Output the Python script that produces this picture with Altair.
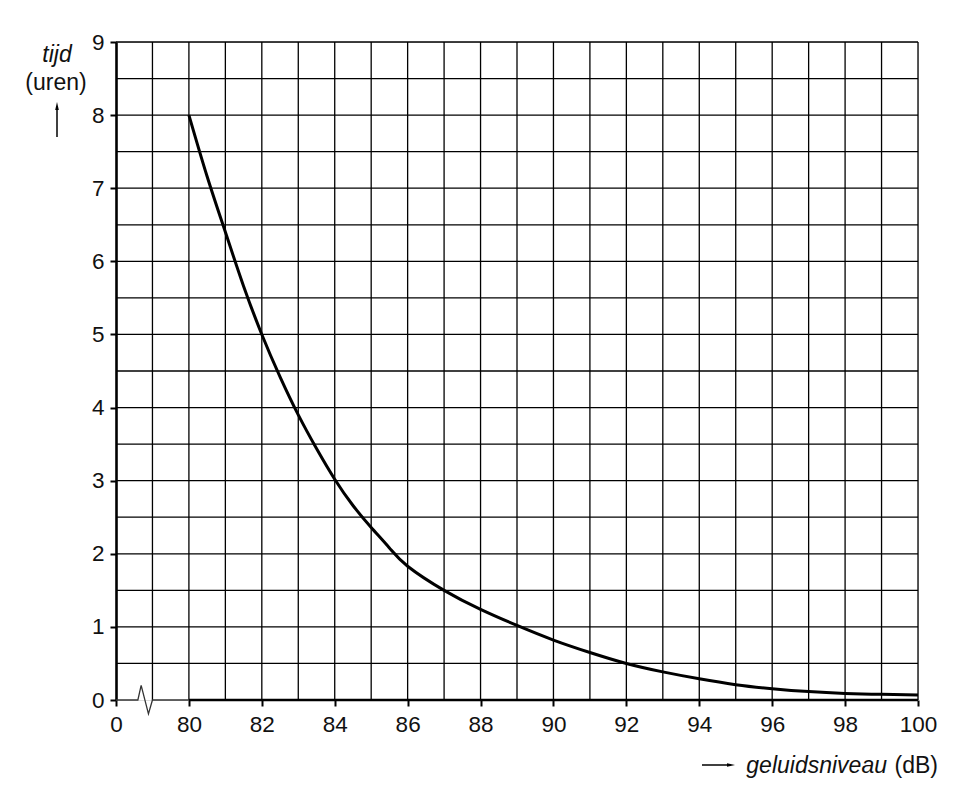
import altair as alt
import pandas as pd

# curve data
level_db = [80, 80.5, 81, 81.5, 82, 82.5, 83, 83.5, 84, 84.5, 85, 85.5, 86, 87, 88, 89, 90,
            91, 92, 93, 94, 95, 96, 97, 98, 99, 100]
hours = [8.0, 7.16, 6.4, 5.66, 5.0, 4.42, 3.9, 3.44, 3.02, 2.66, 2.36, 2.08, 1.83, 1.5,
         1.24, 1.02, 0.82, 0.65, 0.5, 0.385, 0.29, 0.21, 0.155, 0.115, 0.09, 0.077, 0.07]

# axis ticks (78 on the scale stands for the broken "0")
x_ticks = [78, 80, 82, 84, 86, 88, 90, 92, 94, 96, 98, 100]
y_ticks = [0, 1, 2, 3, 4, 5, 6, 7, 8, 9]
grid_x = list(range(79, 101))
grid_y = [0.5 * i for i in range(1, 19)]

# axis-break zigzag on the x axis
break_x = [78, 78.6, 78.69, 78.89, 79.0, 80]
break_y = [0, 0, 0.2, -0.19, 0, 0]

W, H = 802, 658
FONT = "Liberation Sans"

xs = alt.Scale(domain=[78, 100], nice=False, zero=False)
ys = alt.Scale(domain=[0, 9], nice=False)

curve_df = pd.DataFrame({"x": level_db, "y": hours})
gx_df = pd.DataFrame({"x": grid_x})
gy_df = pd.DataFrame({"y": grid_y})
br_df = pd.DataFrame({"x": break_x, "y": break_y, "o": list(range(len(break_x)))})
one = pd.DataFrame({"k": [0]})

grid_v = alt.Chart(gx_df).mark_rule(color="black", strokeWidth=1.3).encode(
    x=alt.X("x:Q", scale=xs), y=alt.datum(0, scale=ys), y2=alt.datum(9))
grid_h = alt.Chart(gy_df).mark_rule(color="black", strokeWidth=1.3).encode(
    y=alt.Y("y:Q", scale=ys), x=alt.datum(78, scale=xs), x2=alt.datum(100))

baseline = alt.Chart(one).mark_rule(color="black", strokeWidth=2.6).encode(
    x=alt.datum(80, scale=xs), x2=alt.datum(100), y=alt.datum(0, scale=ys))

brk = alt.Chart(br_df).mark_line(color="#333", strokeWidth=1.3).encode(
    x=alt.X("x:Q", scale=xs), y=alt.Y("y:Q", scale=ys), order="o:Q")

curve = alt.Chart(curve_df).mark_line(color="black", strokeWidth=3, interpolate="natural").encode(
    x=alt.X("x:Q", scale=xs, title=None,
            axis=alt.Axis(values=x_ticks, domain=False, grid=False, tickSize=6, tickWidth=2,
                          tickColor="black", labelPadding=7, labelFontSize=22.5,
                          labelFont=FONT, labelColor="#111", format="d", labelFlush=False,
                          labelOverlap=False,
                          labelExpr="datum.value == 78 ? '0' : datum.label")),
    y=alt.Y("y:Q", scale=ys, title=None,
            axis=alt.Axis(values=y_ticks, domain=True, domainWidth=2.6, domainColor="black",
                          grid=False, tickSize=6, tickWidth=2, tickColor="black",
                          labelPadding=6, labelFontSize=22.5, labelFont=FONT, labelFlush=False,
                          labelOverlap=False, labelColor="#111", format="d")))

# axis titles
txt = dict(font=FONT, fontSize=23, color="#111", baseline="middle")
t_tijd = alt.Chart(one).mark_text(fontStyle="italic", align="center", **txt).encode(
    x=alt.value(-59), y=alt.value(13), text=alt.value("tijd"))
t_uren = alt.Chart(one).mark_text(align="center", **txt).encode(
    x=alt.value(-60), y=alt.value(41), text=alt.value("(uren)"))
up_shaft = alt.Chart(one).mark_rule(color="black", strokeWidth=1.5).encode(
    x=alt.value(-59), y=alt.value(64), y2=alt.value(95))
up_head = alt.Chart(one).mark_point(shape="M0,-1L0.45,1L-0.45,1Z", filled=True, opacity=1,
                                    color="black", size=64).encode(
    x=alt.value(-59), y=alt.value(64))

t_geluid = alt.Chart(one).mark_text(fontStyle="italic", align="right", **txt).encode(
    x=alt.value(771), y=alt.value(724), text=alt.value("geluidsniveau"))
t_db = alt.Chart(one).mark_text(align="right", **txt).encode(
    x=alt.value(822), y=alt.value(724), text=alt.value("(dB)"))
r_shaft = alt.Chart(one).mark_rule(color="black", strokeWidth=1.5).encode(
    x=alt.value(586), x2=alt.value(615), y=alt.value(723))
r_head = alt.Chart(one).mark_point(shape="M1,0L-1,-0.45L-1,0.45Z", filled=True, opacity=1,
                                   color="black", size=64).encode(
    x=alt.value(615), y=alt.value(723))

chart = alt.layer(
    grid_v, grid_h, baseline, brk, curve,
    t_tijd, t_uren, up_shaft, up_head, t_geluid, t_db, r_shaft, r_head
).properties(
    width=W, height=H,
    autosize=alt.AutoSizeParams(type="none"),
    padding={"left": 108, "top": 34, "right": 30, "bottom": 90},
).configure_view(stroke=None).configure(background="white")

chart.save("out.html", embed_options={"renderer": "svg", "actions": False})
